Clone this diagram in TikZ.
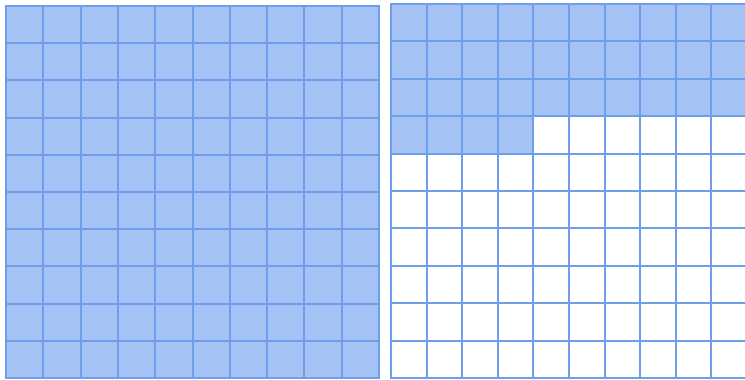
\documentclass[tikz,border=0pt]{standalone}
\usetikzlibrary{positioning}
\definecolor{edge}{RGB}{109,158,235}
\definecolor{fillblue}{RGB}{164,194,244}
\tikzset{
  every picture/.style={line width=2pt, x=1pt, y=-1pt},
  cell/.style={draw=edge, fill=white},
  full/.style={draw=edge, fill=fillblue},
}

\begin{document}
\begin{tikzpicture}
  \useasboundingbox (0,0) rectangle (745,380);
  \clip (0,0) rectangle (745,380);
  % left square: every cell filled
  \foreach \r in {0,...,9}
    \foreach \c in {0,...,9}
      \draw[full] ({6+37.3*\c},{6+37.2*\r}) rectangle +(37.3,37.2);
  % right square: 34 of 100 filled
  \foreach \r in {0,...,9}
    \foreach \c in {0,...,9} {
      \pgfmathtruncatemacro{\k}{10*\r+\c}
      \ifnum\k<34
        \draw[full] ({391+35.6*\c},{4+37.4*\r}) rectangle +(35.6,37.4);
      \else
        \draw[cell] ({391+35.6*\c},{4+37.4*\r}) rectangle +(35.6,37.4);
      \fi
    }
\end{tikzpicture}
\end{document}
